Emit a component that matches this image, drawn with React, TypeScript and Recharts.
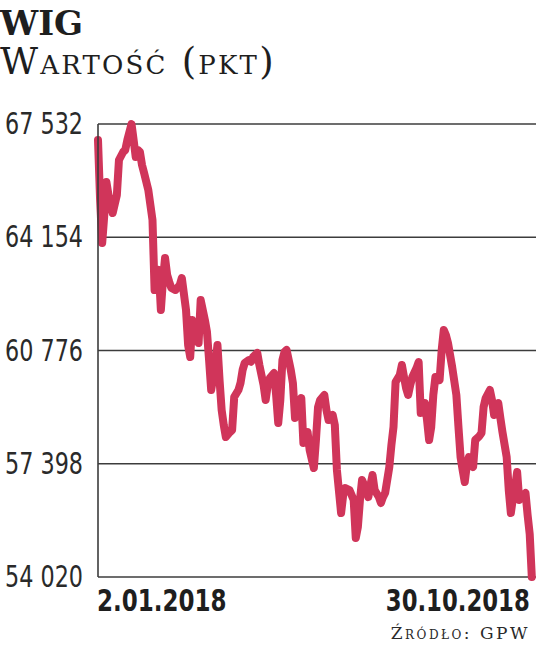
import React from 'react';
import { LineChart, Line, XAxis, YAxis, CartesianGrid } from 'recharts';

// Trading session index (0 = 2.01.2018, 207 = 30.10.2018)
const sessions = [
  0, 1, 2, 3, 4, 5, 7, 9, 10, 12, 13, 14, 16, 17, 18, 19, 20, 21, 22, 24, 25, 26, 27, 28, 29, 30,
  31, 32, 33, 34, 35, 37, 39, 40, 42, 43, 44, 45, 47, 48, 49, 51, 52, 53, 54, 56, 57, 58, 59, 60,
  61, 63, 64, 65, 67, 68, 69, 70, 72, 73, 74, 76, 77, 79, 80, 81, 82, 84, 85, 86, 87, 88, 89, 90,
  92, 93, 94, 96, 97, 98, 99, 100, 101, 103, 104, 105, 106, 108, 109, 110, 111, 112, 113, 114, 116,
  117, 118, 120, 121, 122, 123, 124, 125, 126, 128, 129, 130, 131, 132, 134, 135, 136, 137, 139,
  140, 141, 142, 144, 145, 146, 147, 148, 149, 150, 152, 153, 154, 156, 157, 158, 159, 160, 161,
  163, 164, 165, 166, 167, 168, 169, 171, 172, 173, 174, 175, 176, 177, 178, 179, 180, 182, 183,
  184, 185, 187, 188, 189, 190, 191, 192, 193, 195, 196, 197, 198, 199, 200, 201, 202, 204, 205,
  206, 207,
];

const wigValues = [
  67055, 65265, 63982, 64817, 65802, 65414, 64877, 65414, 66458, 66697, 66756, 67055, 67532, 67055,
  66548, 66756, 66697, 66309, 66070, 65563, 65116, 64668, 62580, 63028, 63177, 61984, 62879, 63535,
  63028, 62819, 62640, 62580, 62729, 62938, 61984, 60940, 60582, 61685, 61238, 60999, 62282, 61685,
  61327, 60492, 59597, 60343, 60940, 59896, 59001, 58553, 58195, 58344, 58404, 59388, 59597, 59806,
  60194, 60403, 60492, 60440, 60582, 60701, 60343, 59746, 59299, 59746, 59955, 60104, 59448, 58613,
  59299, 60492, 60731, 60790, 60194, 59806, 58762, 59150, 59359, 58016, 58195, 58344, 57807, 57270,
  58106, 59090, 59299, 59448, 59001, 58702, 58762, 58851, 58553, 57211, 55928, 56465, 56674, 56614,
  56465, 56316, 55182, 55511, 56316, 56913, 56614, 56405, 56763, 57062, 56614, 56405, 56226, 56405,
  56525, 57300, 57957, 58494, 59836, 60045, 60343, 59985, 59657, 59448, 59746, 59985, 60253, 60432,
  58911, 59209, 58702, 58106, 58494, 59448, 59985, 59896, 60790, 61387, 61238, 60999, 60641, 60283,
  59448, 58494, 57599, 57211, 56853, 57360, 57599, 57449, 57300, 58106, 58225, 58315, 59090, 59359,
  59597, 59299, 58851, 59060, 59209, 58762, 58344, 57599, 56614, 55928, 56376, 56704, 57151, 56316,
  56405, 56525, 55868, 55300, 54020,
];

const yTicks = [54020, 57398, 60776, 64154, 67532];
const xTickSessions = [0, 207];
const xTickLabels = ['2.01.2018', '30.10.2018'];

const data = sessions.map((s, i) => ({ session: s, wig: wigValues[i] }));

const fmt = (v: number) => String(v).replace(/\B(?=(\d{3})+(?!\d))/g, ' ');

const SANS = "'DejaVu Sans', sans-serif";
const SERIF = "'DejaVu Serif', serif";

const XTick = (props: any) => {
  const { x, y, payload } = props;
  const idx = xTickSessions.indexOf(payload.value);
  const first = idx === 0;
  const label = xTickLabels[idx];
  return (
    <text
      x={first ? x - 1 : x - 2}
      y={y + 34}
      textAnchor={first ? 'start' : 'end'}
      fontFamily={SANS}
      fontWeight={700}
      fontSize={31}
      textLength={label.length * 14.4}
      lengthAdjust="spacingAndGlyphs"
      fill="#1e1e1e"
    >
      {label}
    </text>
  );
};

const YTick = (props: any) => {
  const { x, y, payload } = props;
  return (
    <text
      x={x}
      y={y}
      dy={10}
      textAnchor="end"
      fontFamily={SANS}
      fontSize={30}
      textLength={78}
      lengthAdjust="spacingAndGlyphs"
      fill="#2a2a2a"
    >
      {fmt(payload.value)}
    </text>
  );
};

export default function App() {
  return (
    <div style={{ position: 'absolute', left: 0, top: 0, width: 536, height: 659, background: '#fff' }}>
      <LineChart
        width={536}
        height={659}
        data={data}
        margin={{ top: 124, right: 0, bottom: 42, left: 0 }}
      >
        <CartesianGrid vertical={false} stroke="#3c3c3c" strokeWidth={1.6} />
        <XAxis
          dataKey="session"
          type="number"
          domain={[0, 209]}
          ticks={xTickSessions}
          tick={<XTick />}
          tickLine={false}
          axisLine={false}
          tickSize={0}
          tickMargin={0}
          height={40}
          interval={0}
        />
        <YAxis
          type="number"
          domain={[54020, 67532]}
          ticks={yTicks}
          width={98}
          tickLine={false}
          tickSize={0}
          tickMargin={15}
          axisLine={{ stroke: '#3c3c3c', strokeWidth: 1.6 }}
          tick={<YTick />}
          interval={0}
        />
        <Line
          type="linear"
          dataKey="wig"
          stroke="#d0355a"
          strokeWidth={8}
          strokeLinejoin="round"
          strokeLinecap="round"
          dot={false}
          isAnimationActive={false}
        />
      </LineChart>
      <svg
        width={536}
        height={659}
        style={{ position: 'absolute', left: 0, top: 0, pointerEvents: 'none' }}
      >
        <text x={0} y={35} fontFamily={SERIF} fontWeight={700} fontSize={34} fill="#1e1e1e">
          WIG
        </text>
        <text
          x={0}
          y={74}
          fontFamily={SERIF}
          fontSize={37}
          letterSpacing={2.2}
          fill="#1e1e1e"
          style={{ fontVariant: 'small-caps' }}
        >
          Wartość (pkt)
        </text>
        <text
          x={530}
          y={639}
          textAnchor="end"
          fontFamily={SERIF}
          fontSize={17}
          letterSpacing={2.5}
          fill="#2a2a2a"
          style={{ fontVariant: 'small-caps' }}
        >
          Źródło: GPW
        </text>
      </svg>
    </div>
  );
}
